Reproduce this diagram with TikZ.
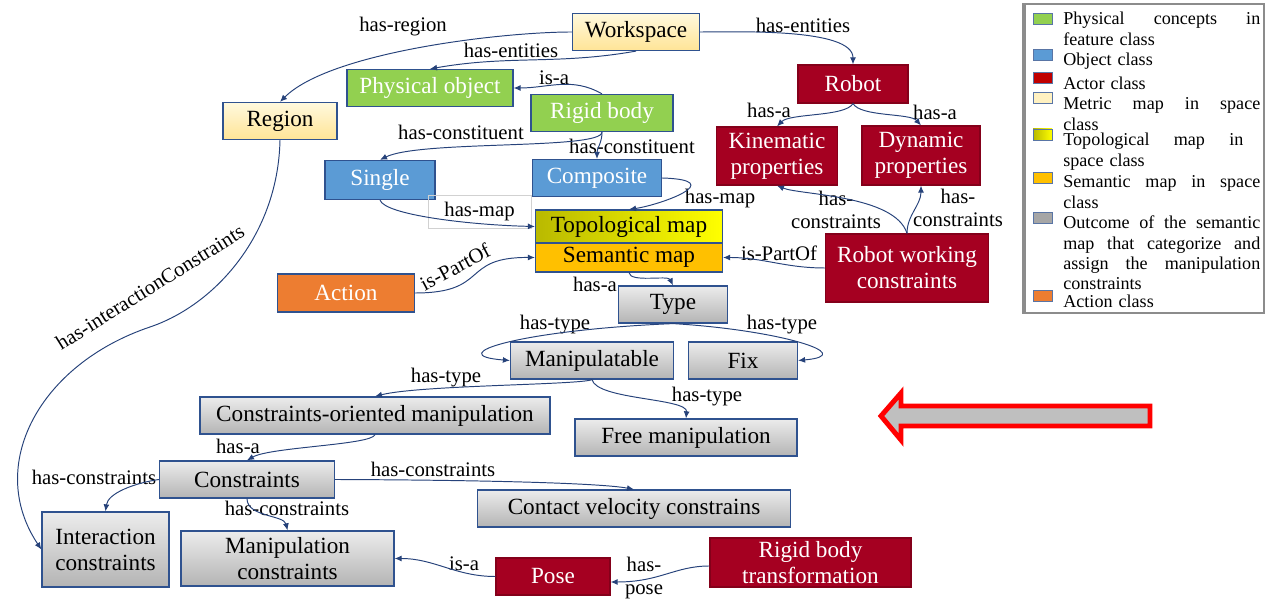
\documentclass[tikz,border=0pt]{standalone}
\usepackage{fontspec}
\setmainfont{Liberation Serif}
\usetikzlibrary{arrows.meta}

\definecolor{navy}{RGB}{47,82,143}
\definecolor{linkblue}{RGB}{38,66,122}
\definecolor{leafgreen}{RGB}{146,208,80}
\definecolor{objblue}{RGB}{91,155,213}
\definecolor{actorred}{RGB}{165,0,33}
\definecolor{legendred}{RGB}{192,0,0}
\definecolor{creamtop}{RGB}{255,249,222}
\definecolor{creambot}{RGB}{255,228,150}
\definecolor{topoleft}{RGB}{185,185,0}
\definecolor{semorange}{RGB}{255,192,0}
\definecolor{greytop}{RGB}{236,236,236}
\definecolor{greybot}{RGB}{180,180,180}
\definecolor{actorange}{RGB}{237,125,49}
\definecolor{arrowgrey}{RGB}{191,191,191}

\begin{document}
\begin{tikzpicture}[x=0.02cm, y=0.02cm, >={Latex[length=4pt,width=3.4pt]},
  box/.style={draw=navy, line width=0.7pt, minimum height=0.74cm, inner sep=0pt, align=center, font=\fontsize{13.2}{14.8}\selectfont},
  metric/.style={box, top color=creamtop, bottom color=creambot},
  physical/.style={box, fill=leafgreen, text=white},
  object/.style={box, fill=objblue, text=white},
  actor/.style={box, fill=actorred, draw=actorred!80!black, text=white},
  outcome/.style={box, top color=greytop, bottom color=greybot},
  rel/.style={->, draw=linkblue, line width=0.55pt},
  lbl/.style={inner sep=0pt, align=center, font=\fontsize{11.8}{13.5}\selectfont},
  swatch/.style={draw=navy!80, line width=0.5pt, minimum width=0.38cm, minimum height=0.22cm, inner sep=0pt},
  legtext/.style={anchor=north west, inner sep=0pt, text width=3.94cm, align=left, font=\fontsize{10.3}{11.6}\selectfont}]

  \useasboundingbox (0,0) rectangle (1265,605);

  \node[metric, minimum width=2.54cm] (ws) at (636,573) {Workspace};
  \node[physical, minimum width=3.32cm] (phys) at (430,517) {Physical object};
  \node[physical, minimum width=2.84cm] (rigid) at (602,492) {Rigid body};
  \node[metric, minimum width=2.28cm] (region) at (280,484) {Region};
  \node[object, minimum width=2.2cm, minimum height=0.78cm] (single) at (380,425) {Single};
  \node[object, minimum width=2.58cm] (comp) at (597,427) {Composite};
  \node[box, left color=topoleft, right color=yellow, minimum width=3.74cm, minimum height=0.66cm] (topo) at (629,378.5) {Topological map};
  \node[box, fill=semorange, minimum width=3.74cm, minimum height=0.58cm] (sem) at (629,347.5) {Semantic map};
  \node[box, fill=actorange, text=white, minimum width=2.74cm, minimum height=0.76cm] (action) at (346,312) {Action};
  \node[actor, minimum width=2.2cm, minimum height=0.76cm] (robot) at (853,521) {Robot};
  \node[actor, minimum width=2.42cm, minimum height=1.16cm] (kin) at (777,449) {Kinematic\\properties};
  \node[actor, minimum width=2.36cm, minimum height=1.18cm] (dyn) at (921,449.5) {Dynamic\\properties};
  \node[actor, minimum width=3.26cm, minimum height=1.36cm] (rwc) at (907,337) {Robot working\\constraints};
  \node[outcome, minimum width=2.18cm] (type) at (673,300.5) {Type};
  \node[outcome, minimum width=3.26cm] (manip) at (592,244.5) {Manipulatable};
  \node[outcome, minimum width=2.18cm] (fix) at (743,244.5) {Fix};
  \node[outcome, minimum width=7cm] (com) at (375,189.5) {Constraints-oriented manipulation};
  \node[outcome, minimum width=4.44cm] (free) at (686,167.5) {Free manipulation};
  \node[outcome, minimum width=3.5cm] (cons) at (247,125.5) {Constraints};
  \node[outcome, minimum width=6.26cm] (contact) at (634,96.5) {Contact velocity constrains};
  \node[outcome, minimum width=2.54cm, minimum height=1.5cm] (inter) at (105.5,55.5) {Interaction\\constraints};
  \node[outcome, minimum width=4.26cm, minimum height=1.1cm] (mcons) at (287.5,46.5) {Manipulation\\constraints};
  \node[actor, minimum width=2.28cm] (pose) at (553,28.5) {Pose};
  \node[actor, minimum width=4.02cm, minimum height=0.98cm] (rbt) at (810.5,42.5) {Rigid body\\transformation};

  \node[lbl] (hasRegion) at (403,578) {has-region};
  \node[lbl] (hasEntPhys) at (511,555) {has-entities};
  \node[lbl] (hasEntRobot) at (803,580) {has-entities};
  \node[lbl] (isaRigid) at (554,527) {is-a};
  \node[lbl] (hasConstSingle) at (461,473) {has-constituent};
  \node[lbl] (hasConstComp) at (632,459) {has-constituent};
  \node[lbl, draw=black!18, line width=0.4pt, minimum width=2.06cm, minimum height=0.66cm] (hasMapSingle) at (479.5,393.5) {has-map};
  \node[lbl] (hasMapComp) at (720,406) {has-map};
  \node[lbl, rotate=28] (partOfAction) at (455,338) {is-PartOf};
  \node[lbl] (partOfRwc) at (779,352) {is-PartOf};
  \node[lbl] (hasaKin) at (769,495) {has-a};
  \node[lbl] (hasaDyn) at (935,493) {has-a};
  \node[lbl] (consKin) at (836,395) {has-\\constraints};
  \node[lbl] (consDyn) at (958,397) {has-\\constraints};
  \node[lbl] (hasaType) at (595,321) {has-a};
  \node[lbl] (typeManip) at (555,280) {has-type};
  \node[lbl] (typeFix) at (782,280) {has-type};
  \node[lbl] (typeCom) at (446,227) {has-type};
  \node[lbl] (typeFree) at (707,208) {has-type};
  \node[lbl] (hasaCons) at (238,159) {has-a};
  \node[lbl] (consInter) at (94,128) {has-constraints};
  \node[lbl] (consMcons) at (287,97) {has-constraints};
  \node[lbl] (consContact) at (433,136) {has-constraints};
  \node[lbl] (isaPose) at (464,41) {is-a};
  \node[lbl] (hasPose) at (644,27) {has-\\pose};
  \node[lbl, rotate=32] (hicLabel) at (150,318) {has-interactionConstraints};

  \coordinate (hicBend) at (150,278);

  \draw[rel] (ws.west) to[out=180, in=45, looseness=0.6] (region.north);
  \draw[rel] (ws.south) to[out=190, in=10] (phys.north);
  \draw[rel] (ws.east) to[out=0, in=90, looseness=0.6] (robot.north);
  \draw[rel] (rigid.north) to[out=150, in=0] (phys.east);
  \draw[rel] (rigid.south) .. controls (602,455) and (420,465) .. (single.north);
  \draw[rel] (rigid.south) to[out=-90, in=90] (comp.north);
  \draw[rel] (single.south) .. controls (385,390) and (470,380) .. (topo.west);
  \draw[rel] (comp.east) .. controls (730,425) and (660,400) .. (topo.north);
  \draw[rel] (action.east) .. controls (490,312) and (460,348) .. (sem.west);
  \draw[rel] (rwc.west) to[out=180, in=0] (sem.east);
  \draw[rel] (robot.south) .. controls (845,488) and (790,492) .. (kin.north);
  \draw[rel] (robot.south) .. controls (861,488) and (910,492) .. (dyn.north);
  \draw[rel] (rwc.north) .. controls (895,410) and (800,410) .. (kin.south);
  \draw[rel] (rwc.north) .. controls (907,390) and (921,400) .. (dyn.south);
  \draw[rel] (region.south) .. controls (278,370) and (215,300) .. (hicBend)
    .. controls (40,241) and (-15,140) .. (inter.west);
  \draw[rel] (sem.south) .. controls (630,322) and (668,330) .. (type.north);
  \draw[rel] (type.south) .. controls (520,275) and (440,250) .. (manip.west);
  \draw[rel] (type.south) .. controls (780,275) and (860,250) .. (fix.east);
  \draw[rel] (manip.south) .. controls (580,220) and (420,220) .. (com.north);
  \draw[rel] (manip.south) .. controls (597,205) and (688,207) .. (free.north);
  \draw[rel] (com.south) .. controls (372,160) and (270,158) .. (cons.north);
  \draw[rel] (cons.west) .. controls (135,122) and (108,112) .. (inter.north);
  \draw[rel] (cons.south) .. controls (247,88) and (284,90) .. (mcons.north);
  \draw[rel] (cons.east) .. controls (480,125) and (600,122) .. (contact.north);
  \draw[rel] (pose.west) to[out=180, in=0] (mcons.east);
  \draw[rel] ([yshift=-0.07cm]rbt.west) .. controls (675,39) and (660,23) .. ([yshift=-0.11cm]pose.east);

  \draw[red, line width=2.8pt, fill=arrowgrey, line join=miter]
    (1150,199) -- (901,199) -- (901,212) -- (881,189) -- (901,165) -- (901,179) -- (1150,179) -- cycle;

  \draw[black!45, line width=0.6pt] (1023,292) rectangle (1264,601);
  \draw[black!45, line width=0.6pt] (1025,292) -- (1025,601);
  \node[swatch, fill=leafgreen] (swPhys) at (1042.5,586.5) {};
  \node[swatch, fill=objblue] (swObj) at (1042.5,550.5) {};
  \node[swatch, fill=legendred] (swActor) at (1042.5,527) {};
  \node[swatch, fill=creamtop!60!creambot] (swMetric) at (1042.5,507) {};
  \node[swatch, left color=topoleft, right color=yellow] (swTopo) at (1042.5,470.5) {};
  \node[swatch, fill=semorange] (swSem) at (1042.5,427.5) {};
  \node[swatch, fill=black!35] (swOut) at (1042.5,387.5) {};
  \node[swatch, fill=actorange] (swAction) at (1042.5,309.5) {};

  \node[legtext] (txPhys) at (1063,594.8) {\strut Physical\hfill concepts\hfill in\\feature class};
  \node[legtext] (txObj) at (1063,553.8) {\strut Object class};
  \node[legtext] (txActor) at (1063,529.8) {\strut Actor class};
  \node[legtext] (txMetric) at (1063,509.8) {\strut Metric\hfill map\hfill in\hfill space\\class};
  \node[legtext] (txTopo) at (1063,473.8) {\strut Topological\hfill map\hfill in\kern0.34cm\\space class};
  \node[legtext] (txSem) at (1063,431.8) {\strut Semantic\hfill map\hfill in\hfill space\\class};
  \node[legtext] (txOut) at (1063,390.8) {\strut Outcome\hfill of\hfill the\hfill semantic\\map\hfill that\hfill categorize\hfill and\\assign\hfill the\hfill manipulation\\constraints};
  \node[legtext] (txAction) at (1063,311.8) {\strut Action class};
\end{tikzpicture}
\end{document}
